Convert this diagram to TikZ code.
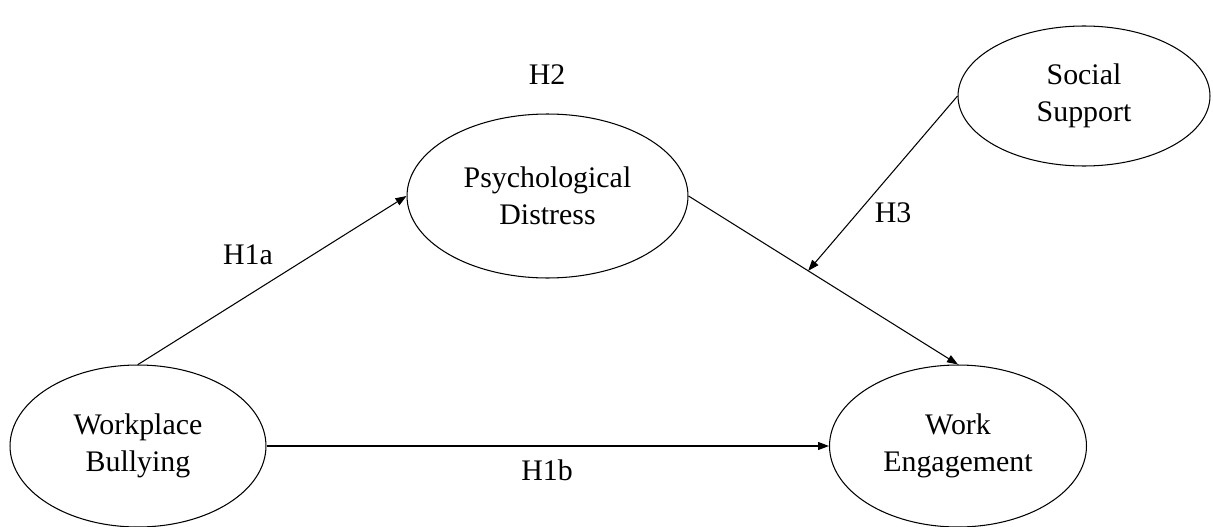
\documentclass[tikz,border=0pt]{standalone}
\usepackage{fontspec}
\setmainfont{Liberation Serif}
\usetikzlibrary{shapes.geometric,arrows.meta,calc}
\begin{document}
\begin{tikzpicture}[x=0.02cm,y=-0.02cm,
  construct/.style={ellipse,draw,line width=0.6pt,inner sep=0pt,align=center,
    font=\fontsize{17}{21}\selectfont},
  hyp/.style={font=\fontsize{17}{21}\selectfont},
  link/.style={line width=0.6pt,-{Triangle[length=0.22cm,width=0.16cm]}}]
\useasboundingbox (0,0) rectangle (1213,527);
\node[construct,minimum width=5.12cm,minimum height=3.24cm] (wb) at (138,446) {Workplace\\Bullying};
\node[construct,minimum width=5.62cm,minimum height=3.28cm] (psd) at (547.5,196) {Psychological\\Distress};
\node[construct,minimum width=5.04cm,minimum height=2.8cm] (ss) at (1084,96) {Social\\Support};
\node[construct,minimum width=5.14cm,minimum height=3.24cm] (we) at (958,446) {Work\\Engagement};
\draw[link] (wb.north) -- (psd.west);
\draw[link] (wb.east) -- (we.west);
\draw[link] (psd.east) -- (we.north);
\coordinate (m) at ($(psd.east)!0.444!(we.north)$);
\draw[link] (ss.west) -- (m);
\node[hyp] (h2) at (547,75) {H2};
\node[hyp] (h1a) at (248,255) {H1a};
\node[hyp] (h1b) at (547,470) {H1b};
\node[hyp] (h3) at (893,213) {H3};
\end{tikzpicture}
\end{document}
